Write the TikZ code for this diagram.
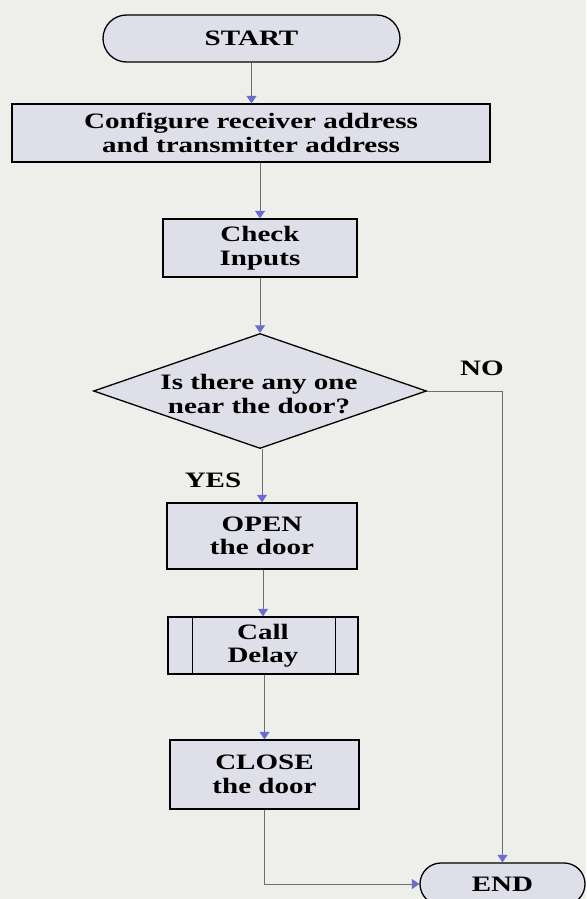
\documentclass[tikz,border=0pt]{standalone}
\usepackage{fontspec}
\setmainfont{Liberation Serif}[FakeStretch=1.32]
\usetikzlibrary{shapes.geometric,shapes.misc,arrows.meta}
\definecolor{paper}{HTML}{EEEEEB}
\definecolor{boxfill}{HTML}{DEDFE9}
\definecolor{tipblue}{HTML}{6B6BD0}
\definecolor{wire}{HTML}{6E6E6E}

\begin{document}
\begin{tikzpicture}[x=1pt,y=-1pt,
  every node/.style={font=\fontsize{22}{23.5}\selectfont\bfseries, align=center, inner sep=0pt},
  terminal/.style={rounded rectangle, draw=black, line width=1.3pt, fill=boxfill},
  process/.style={rectangle, draw=black, line width=1.3pt, fill=boxfill},
  decision/.style={diamond, draw=black, line width=1.3pt, fill=boxfill, aspect=2.9},
  subbar/.style={draw=black, line width=1.3pt},
  flow/.style={draw=wire, line width=0.9pt, -{Triangle[width=10pt,length=7.5pt,color=tipblue]}},
]
\fill[paper] (0,0) rectangle (586,899);
\useasboundingbox (0,0) rectangle (586,899);
\clip (0,0) rectangle (586,899);

% shapes
\node[terminal, minimum width=297pt, minimum height=47pt] (start) at (251.5,38.5) {START};
\node[process, minimum width=478pt, minimum height=58pt] (cfg) at (251,133)
  {Configure receiver address\\and transmitter address};
\node[process, minimum width=194pt, minimum height=58pt] (chk) at (260,248) {Check\\Inputs};
\node[decision, minimum width=333pt, minimum height=115pt] (dec) at (260,391) {};
\node (q) at (259,394) {Is there any one\\near the door?};
\node[process, minimum width=190pt, minimum height=66pt] (open) at (262,536) {OPEN\\the door};
\node[process, minimum width=190pt, minimum height=57pt] (call) at (263,645.5) {Call\\Delay};
\draw[subbar] ([xshift=25pt]call.north west) -- ([xshift=25pt]call.south west);
\draw[subbar] ([xshift=-23pt]call.north east) -- ([xshift=-23pt]call.south east);
\node[process, minimum width=189pt, minimum height=69pt] (close) at (264.5,774.5) {CLOSE\\the door};
\node[terminal, minimum width=165pt, minimum height=42pt] (end) at (502.5,884) {END};

% branch labels
\node (no) at (482,368) {NO};
\node (yes) at (213,480) {YES};

% connectors
\draw[flow] (start.south) -- (start.south |- cfg.north);
\draw[flow] (cfg.south -| chk.north) -- (chk.north);
\draw[flow] (chk.south) -- (chk.south |- dec.north);
\draw[flow] (open.north |- dec.south) -- (open.north);
\draw[flow] (open.south -| call.north) -- (call.north);
\draw[flow] (call.south -| close.north) -- (close.north);
\draw[flow] (close.south) |- (end.west);
\draw[flow] (dec.east) -| (end.north);
\end{tikzpicture}
\end{document}
